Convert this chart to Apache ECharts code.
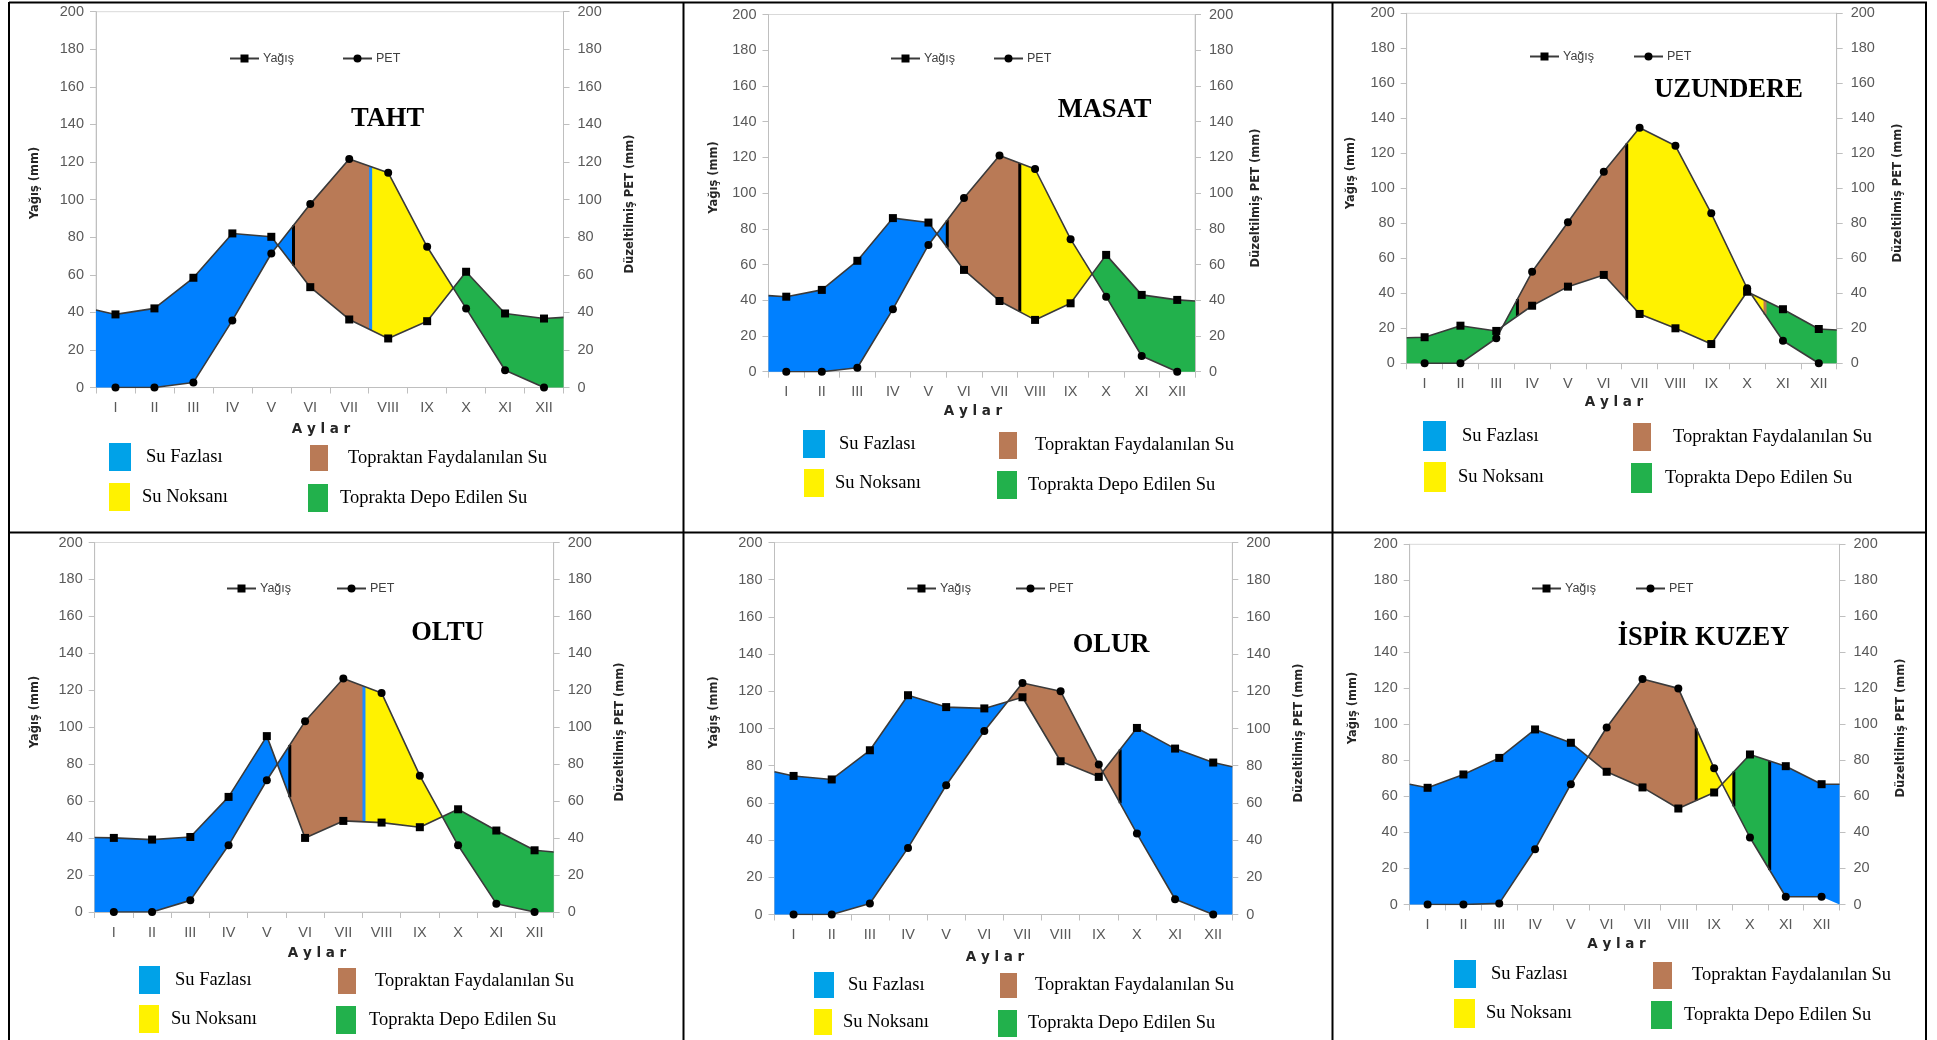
<!DOCTYPE html>
<html>
<head>
<meta charset="utf-8">
<script src="https://cdn.jsdelivr.net/npm/echarts@6/dist/echarts.min.js"></script>
<style>
html,body{margin:0;padding:0;background:#ffffff;}
#chart{width:1937px;height:1040px;}
</style>
</head>
<body>
<div id="chart"></div>
<script>
// ---------------- DATA ----------------
const months = ['I','II','III','IV','V','VI','VII','VIII','IX','X','XI','XII'];
const yMin = 0, yMax = 200, yStep = 20;
const zoneTypes = ['fazla','fayda','noksan','depo'];
const zoneNames = {
  fazla: 'Su Fazlası',
  fayda: 'Topraktan Faydalanılan Su',
  noksan: 'Su Noksanı',
  depo: 'Toprakta Depo Edilen Su'
};

// TAHT
const tahtYagis = [38.9, 42.1, 58.4, 82.0, 80.2, 53.4, 36.2, 26.1, 35.3, 61.6, 39.4, 36.7];
const tahtPet   = [0, 0, 2.7, 35.7, 71.3, 97.6, 121.6, 114.3, 74.9, 42.1, 9.2, 0];
const tahtYagisEdge = [41.2, 37.3];
const tahtPetEdge = [0, 0];
const tahtZones = [[0, 5.07, 'fazla'], [5.07, 7.05, 'fayda'], [7.05, 9.17, 'noksan'], [9.17, 12, 'depo']];
const tahtDividers = [[5.07, 'plain'], [7.05, 'fazla']];

// MASAT
const masatYagis = [42.0, 45.8, 62.1, 86.0, 83.5, 57.0, 39.6, 29.0, 38.3, 65.4, 43.0, 40.2];
const masatPet   = [0, 0, 2.2, 35.0, 71.0, 97.2, 121.1, 113.5, 74.2, 42.0, 8.8, 0];
const masatYagisEdge = [42.6, 39.6];
const masatPetEdge = [0, 0];
const masatZones = [[0, 5.03, 'fazla'], [5.03, 7.07, 'fayda'], [7.07, 9.105, 'noksan'], [9.105, 12, 'depo']];
const masatDividers = [[5.03, 'plain'], [7.07, 'plain']];

// UZUNDERE
const uzundereYagis = [14.9, 21.5, 18.5, 32.9, 43.8, 50.5, 28.2, 20.0, 11.0, 40.9, 30.9, 19.6];
const uzunderePet   = [0, 0, 14.3, 52.3, 80.6, 109.5, 134.6, 124.3, 85.7, 42.9, 12.9, 0];
const uzundereYagisEdge = [14.6, 19.0];
const uzunderePetEdge = [0, 0];
const uzundereZones = [[0, 3.09, 'depo'], [3.09, 6.14, 'fayda'], [6.14, 10.0, 'noksan'], [10.0, 12, 'depo']];
const uzundereDividers = [[3.09, 'plain'], [6.14, 'plain'], [10.0, 'fayda']];

// OLTU
const oltuYagis = [40.1, 39.2, 40.6, 62.3, 95.2, 40.1, 49.3, 48.4, 45.9, 55.6, 44.1, 33.4];
const oltuPet   = [0, 0, 6.3, 36.1, 71.3, 103.2, 126.4, 118.6, 73.8, 36.1, 4.5, 0];
const oltuYagisEdge = [40.3, 32.5];
const oltuPetEdge = [0, 0];
const oltuZones = [[0, 5.1, 'fazla'], [5.1, 7.04, 'fayda'], [7.04, 9.09, 'noksan'], [9.09, 12, 'depo']];
const oltuDividers = [[5.1, 'plain'], [7.04, 'fazla']];

// OLUR
const olurYagis = [74.5, 72.6, 88.3, 117.9, 111.5, 110.8, 116.8, 82.4, 74.0, 100.3, 89.2, 81.7];
const olurPet   = [0, 0, 5.9, 35.8, 69.5, 98.7, 124.5, 120.0, 80.6, 43.5, 8.2, 0];
const olurYagisEdge = [76.7, 79.4];
const olurPetEdge = [0, 0];
const olurZones = [[0, 6.11, 'fazla'], [6.11, 9.06, 'fayda'], [9.06, 12, 'fazla']];
const olurDividers = [[9.06, 'plain']];

// İSPİR KUZEY
const ispirYagis = [64.8, 72.2, 81.4, 97.2, 89.8, 73.7, 65.0, 53.3, 62.2, 83.3, 76.8, 66.8];
const ispirPet   = [0, 0, 0.6, 30.7, 66.8, 98.3, 125.2, 120.0, 75.6, 37.2, 4.3, 4.3];
const ispirYagisEdge = [66.8, 66.8];
const ispirPetEdge = [0, 0];
const ispirZones = [[0, 4.98, 'fazla'], [4.98, 8.0, 'fayda'], [8.0, 9.05, 'noksan'], [9.05, 10.05, 'depo'], [10.05, 12, 'fazla']];
const ispirDividers = [[8.0, 'plain'], [9.05, 'plain'], [10.05, 'plain']];

const stations = [
  {name:'TAHT', yagis:tahtYagis, pet:tahtPet, yEdge:tahtYagisEdge, pEdge:tahtPetEdge, zones:tahtZones, dividers:tahtDividers},
  {name:'MASAT', yagis:masatYagis, pet:masatPet, yEdge:masatYagisEdge, pEdge:masatPetEdge, zones:masatZones, dividers:masatDividers},
  {name:'UZUNDERE', yagis:uzundereYagis, pet:uzunderePet, yEdge:uzundereYagisEdge, pEdge:uzunderePetEdge, zones:uzundereZones, dividers:uzundereDividers},
  {name:'OLTU', yagis:oltuYagis, pet:oltuPet, yEdge:oltuYagisEdge, pEdge:oltuPetEdge, zones:oltuZones, dividers:oltuDividers},
  {name:'OLUR', yagis:olurYagis, pet:olurPet, yEdge:olurYagisEdge, pEdge:olurPetEdge, zones:olurZones, dividers:olurDividers},
  {name:'İSPİR KUZEY', yagis:ispirYagis, pet:ispirPet, yEdge:ispirYagisEdge, pEdge:ispirPetEdge, zones:ispirZones, dividers:ispirDividers}
];

// ---------------- STYLE / LAYOUT ----------------
const SERIF = "'Liberation Serif', 'Times New Roman', serif";
const SANS = "'Liberation Sans', Arial, sans-serif";
const BOLD = "'DejaVu Sans', Verdana, sans-serif";
const fillColors = {fazla:'#0080ff', fayda:'#b97a56', noksan:'#fff200', depo:'#22b14c'};
const legendColors = {fazla:'#00a2e8', fayda:'#b97a56', noksan:'#fff200', depo:'#22b14c'};
const dividerColors = {plain:'#000000', fazla:'#1a8cff', fayda:'#b97a56'};
const axisGray = '#bfbfbf';
const labelGray = '#595959';
const tickFont = 14.5;

const layout = [
  {L:96, T:11.7, R:563.5, B:387.5, title:[387.5,119], lt:[35,183], rt:[630,204], ay:[321,429], ly:[229,57], lp:[342,57],
   zl:[[109,443,22,28,146],[310,445,18,26,348],[109,483,21,28,142],[308,484,20,28,340]]},
  {L:768.5, T:14.5, R:1195, B:371.7, title:[1104.5,110], lt:[714,177.5], rt:[1256,198], ay:[973,411], ly:[890,57], lp:[993,57],
   zl:[[803,430,22,28,839],[999,432,18,27,1035],[804,469,20,28,835],[997,471,20,28,1028]]},
  {L:1406.7, T:13.3, R:1836.7, B:363.3, title:[1728.5,90.5], lt:[1351,173], rt:[1898,193], ay:[1614,402], ly:[1529,55], lp:[1633,55],
   zl:[[1423,421,23,30,1462],[1633,423,18,28,1673],[1424,462,22,30,1458],[1631,463,21,30,1665]]},
  {L:94.7, T:542.5, R:553.7, B:912, title:[447.5,633.5], lt:[35,712], rt:[620,732], ay:[317,953], ly:[226,587], lp:[336,587],
   zl:[[139,966,21,28,175],[338,968,18,26,375],[139,1005,20,28,171],[336,1006,20,28,369]]},
  {L:774.5, T:542.5, R:1232.3, B:914.5, title:[1111,645.5], lt:[714,712.5], rt:[1299.5,733], ay:[995,957], ly:[906,587], lp:[1015,587],
   zl:[[814,972,20,26,848],[1000,973,17,25,1035],[814,1009,18,26,843],[998,1010,19,27,1028]]},
  {L:1409.7, T:544.3, R:1839.5, B:904.5, title:[1703.5,638.5], lt:[1353,708], rt:[1901,728], ay:[1616.5,944], ly:[1531,587], lp:[1635,587],
   zl:[[1454,960,22,28,1491],[1653,962,19,27,1692],[1454,999,21,29,1486],[1651,1001,21,28,1684]]}
];

// ---------------- HELPERS ----------------
function knots(vals, edge) {
  const xs = [0].concat(vals.map((_, k) => k + 0.5), [12]);
  const ys = [edge[0]].concat(vals, [edge[1]]);
  return {xs, ys};
}
function interp(c, x) {
  const xs = c.xs, ys = c.ys;
  for (let k = 0; k < xs.length - 1; k++) {
    if (x <= xs[k + 1]) {
      const t = (x - xs[k]) / (xs[k + 1] - xs[k]);
      return ys[k] + t * (ys[k + 1] - ys[k]);
    }
  }
  return ys[ys.length - 1];
}
function zonePolygon(yc, pc, a, b) {
  const inner = yc.xs.filter(x => x > a + 1e-9 && x < b - 1e-9);
  const xsAll = [a].concat(inner, [b]);
  const top = xsAll.map(x => [x, interp(yc, x)]);
  const bot = xsAll.slice().reverse().map(x => [x, interp(pc, x)]);
  return top.concat(bot);
}

// ---------------- OPTION ----------------
const grids = [], xAxes = [], yAxes = [], series = [], legends = [], graphics = [];

stations.forEach((st, i) => {
  const lay = layout[i];
  const yc = knots(st.yagis, st.yEdge);
  const pc = knots(st.pet, st.pEdge);

  grids.push({left: lay.L, top: lay.T, width: lay.R - lay.L, height: lay.B - lay.T,
    show: true, borderColor: '#d9d9d9', borderWidth: 1, backgroundColor: 'transparent'});

  xAxes.push({type: 'category', gridIndex: i, data: months, boundaryGap: true,
    axisLine: {lineStyle: {color: axisGray, width: 1}},
    axisTick: {show: true, length: 6, interval: 0, lineStyle: {color: axisGray}},
    axisLabel: {interval: 0, color: labelGray, fontSize: tickFont, fontFamily: SANS, margin: 13},
    splitLine: {show: false}});
  xAxes.push({type: 'value', gridIndex: i, min: 0, max: 12, show: false});

  const yCommon = {type: 'value', gridIndex: i, min: yMin, max: yMax, interval: yStep,
    axisLine: {show: true, lineStyle: {color: axisGray}},
    axisTick: {show: true, length: 6, lineStyle: {color: axisGray}},
    splitLine: {show: false}};
  yAxes.push(Object.assign({}, yCommon, {position: 'left',
    axisLabel: {color: labelGray, fontSize: tickFont, fontFamily: SANS, margin: 12}}));
  yAxes.push(Object.assign({}, yCommon, {position: 'right',
    axisLabel: {color: labelGray, fontSize: tickFont, fontFamily: SANS, margin: 14}}));

  // zone fills
  zoneTypes.forEach(type => {
    const data = st.zones.filter(z => z[2] === type).map(z => [z[0], z[1]]);
    series.push({
      type: 'custom', name: zoneNames[type], xAxisIndex: 2 * i + 1, yAxisIndex: 2 * i,
      z: 1, silent: true, data: data,
      renderItem: (params, api) => {
        const a = api.value(0), b = api.value(1);
        const pts = zonePolygon(yc, pc, a, b).map(p => api.coord(p));
        return {type: 'polygon', shape: {points: pts}, style: {fill: fillColors[type], stroke: null}};
      }
    });
  });

  // divider lines
  series.push({
    type: 'custom', name: 'sınır-' + i, xAxisIndex: 2 * i + 1, yAxisIndex: 2 * i, z: 2, silent: true,
    data: st.dividers.map(d => [d[0], 0]),
    renderItem: (params, api) => {
      const x = api.value(0);
      const kind = st.dividers[params.dataIndex][1];
      const p1 = api.coord([x, interp(yc, x)]);
      const p2 = api.coord([x, interp(pc, x)]);
      return {type: 'line', shape: {x1: p1[0], y1: p1[1], x2: p2[0], y2: p2[1]},
        style: {stroke: dividerColors[kind], lineWidth: 3}};
    }
  });

  // lines
  const yData = [{value: [0, st.yEdge[0]], symbol: 'none'}]
    .concat(st.yagis.map((v, k) => [k + 0.5, v]))
    .concat([{value: [12, st.yEdge[1]], symbol: 'none'}]);
  series.push({type: 'line', name: 'Yağış', xAxisIndex: 2 * i + 1, yAxisIndex: 2 * i, z: 4,
    data: yData, symbol: 'rect', symbolSize: 8, showAllSymbol: true, silent: true,
    itemStyle: {color: '#000000'}, lineStyle: {color: '#3a3a3a', width: 1.6}});
  series.push({type: 'line', name: 'PET', xAxisIndex: 2 * i + 1, yAxisIndex: 2 * i, z: 4,
    data: st.pet.map((v, k) => [k + 0.5, v]), symbol: 'circle', symbolSize: 8, showAllSymbol: true, silent: true,
    itemStyle: {color: '#000000'}, lineStyle: {color: '#3a3a3a', width: 1.6}});

  // legends: lines
  [['Yağış', lay.ly], ['PET', lay.lp]].forEach(([nm, pos]) => {
    legends.push({left: pos[0], top: pos[1] - 5, padding: 0, itemWidth: 29, itemHeight: 10,
      selectedMode: false, data: [nm],
      textStyle: {color: '#404040', fontSize: 12.5, fontFamily: SANS, padding: [0, 0, 0, -1]}});
  });
  // legends: zones
  zoneTypes.forEach((type, k) => {
    const z = lay.zl[k];
    legends.push({left: z[0], top: z[1], padding: 0, itemWidth: z[2], itemHeight: z[3], icon: 'rect',
      selectedMode: false,
      data: [{name: zoneNames[type], itemStyle: {color: legendColors[type]}}],
      textStyle: {color: '#000000', fontSize: 18.5, fontFamily: SERIF,
        padding: [k < 2 ? 3 : 0, 0, 0, Math.max(0, z[4] - (z[0] + z[2] + 5))]}});
  });

  // texts
  graphics.push({type: 'text', x: lay.title[0], y: lay.title[1],
    style: {text: st.name, font: "bold 26.5px " + SERIF, fill: '#000', align: 'center', verticalAlign: 'middle'}});
  graphics.push({type: 'text', x: lay.lt[0], y: lay.lt[1], rotation: Math.PI / 2,
    style: {text: 'Yağış (mm)', font: "bold 11.5px " + BOLD, fill: '#262626', align: 'center', verticalAlign: 'middle'}});
  graphics.push({type: 'text', x: lay.rt[0], y: lay.rt[1], rotation: Math.PI / 2,
    style: {text: 'Düzeltilmiş PET (mm)', font: "bold 11.5px " + BOLD, fill: '#262626', align: 'center', verticalAlign: 'middle'}});
  graphics.push({type: 'text', x: lay.ay[0], y: lay.ay[1],
    style: {text: 'A y l a r', font: "bold 13.5px " + BOLD, fill: '#262626', align: 'center', verticalAlign: 'middle'}});
});

// panel frame
const frame = [
  [9, 2.5, 1927, 2.5], [9, 532.5, 1927, 532.5],
  [9, 2, 9, 1040], [683.5, 2, 683.5, 1040], [1332.5, 2, 1332.5, 1040], [1926, 2, 1926, 1040]
];
frame.forEach(f => graphics.push({type: 'line', shape: {x1: f[0], y1: f[1], x2: f[2], y2: f[3]},
  style: {stroke: '#000', lineWidth: 2}, z: 10}));

const chart = echarts.init(document.getElementById('chart'), null, {renderer: 'canvas'});
chart.setOption({
  backgroundColor: '#ffffff',
  animation: false,
  grid: grids,
  xAxis: xAxes,
  yAxis: yAxes,
  legend: legends,
  series: series,
  graphic: graphics
});
</script>
</body>
</html>
